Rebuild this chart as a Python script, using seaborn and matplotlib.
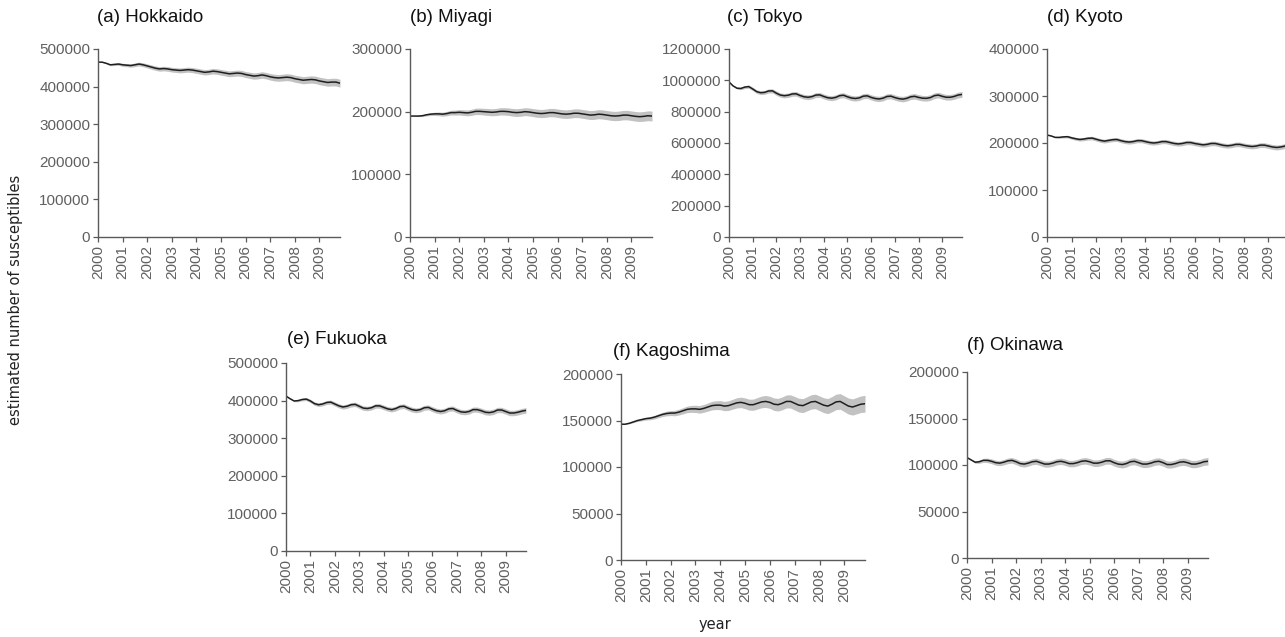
import numpy as np
import pandas as pd
import matplotlib
matplotlib.use("Agg")
import matplotlib.pyplot as plt
import seaborn as sns

# Sampling times: every two months, Jan 2000 .. Nov 2009
months = list(range(0, 120, 2))
years = [2000, 2001, 2002, 2003, 2004, 2005, 2006, 2007, 2008, 2009]
year_labels = ["2000", "2001", "2002", "2003", "2004", "2005", "2006", "2007", "2008", "2009"]

# Estimated number of susceptibles (posterior mean) per prefecture
hokkaido = [
    465000, 465000, 462000, 458000, 459000, 460000,
    458000, 457000, 456000, 458000, 460000, 458000,
    455000, 452000, 449000, 447000, 448000, 447000,
    445000, 444000, 443000, 444000, 445000, 444000,
    442000, 440000, 438000, 439000, 441000, 440000,
    438000, 436000, 434000, 435000, 436000, 435000,
    432000, 430000, 428000, 429000, 431000, 429000,
    426000, 424000, 423000, 424000, 425000, 424000,
    421000, 419000, 417000, 418000, 419000, 418000,
    415000, 413000, 411000, 412000, 412000, 409000,
]
miyagi = [
    193000, 193000, 193000, 193500, 195000, 196000,
    196500, 196500, 196000, 197000, 198500, 198500,
    199000, 198500, 198000, 199000, 200500, 200500,
    200000, 199500, 199000, 199500, 200500, 200500,
    200000, 199000, 198500, 199000, 200000, 199500,
    198500, 197500, 197000, 197500, 198500, 198500,
    197500, 196500, 196000, 196500, 197500, 197500,
    196500, 195500, 194500, 195000, 196000, 195500,
    194500, 193500, 193000, 193500, 194500, 194500,
    193500, 192500, 192000, 192500, 193500, 193000,
]
tokyo = [
    990000, 965000, 950000, 948000, 957000, 960000,
    945000, 928000, 921000, 923000, 932000, 933000,
    918000, 906000, 902000, 905000, 913000, 914000,
    903000, 895000, 892000, 896000, 906000, 907000,
    897000, 889000, 886000, 891000, 902000, 905000,
    895000, 887000, 884000, 888000, 899000, 901000,
    891000, 884000, 881000, 886000, 897000, 899000,
    890000, 883000, 880000, 885000, 895000, 898000,
    891000, 886000, 885000, 890000, 902000, 906000,
    898000, 892000, 892000, 897000, 906000, 910000,
]
kyoto = [
    217000, 215000, 212000, 212000, 213000, 213500,
    211000, 209000, 207500, 208500, 210000, 210500,
    208000, 205500, 204000, 205500, 207000, 207500,
    205000, 203000, 202000, 203000, 205000, 205000,
    203000, 201000, 200000, 201000, 203000, 203000,
    201000, 199000, 198000, 199000, 201000, 201000,
    199000, 197500, 196000, 197000, 199000, 199000,
    197000, 195000, 194000, 195000, 197000, 197000,
    195000, 193500, 192500, 193500, 195500, 195500,
    193500, 191500, 190500, 191500, 193500, 194000,
]
fukuoka = [
    412000, 405000, 399000, 400000, 403000, 404000,
    399000, 392000, 389000, 391000, 395000, 396000,
    391000, 386000, 383000, 385000, 389000, 390000,
    385000, 380000, 379000, 381000, 386000, 386000,
    382000, 378000, 376000, 379000, 384000, 385000,
    380000, 376000, 374000, 376000, 381000, 382000,
    377000, 373000, 371000, 373000, 378000, 379000,
    374000, 370000, 369000, 371000, 376000, 376000,
    373000, 369000, 368000, 370000, 375000, 375000,
    371000, 367000, 367000, 369000, 372000, 374000,
]
kagoshima = [
    146000, 146000, 147000, 148500, 150000, 151000,
    152000, 152500, 153500, 155000, 156500, 157500,
    158000, 158000, 159000, 160500, 162000, 162500,
    162500, 162000, 163000, 164500, 166000, 166500,
    166500, 165500, 166000, 167500, 169000, 169500,
    168500, 167000, 167000, 168500, 170000, 170500,
    169500, 167500, 167000, 168500, 170500, 170500,
    168500, 166500, 166000, 168000, 170000, 170500,
    168500, 166500, 165500, 167500, 170000, 170500,
    168000, 165500, 164500, 166000, 167500, 168000,
]
okinawa = [
    108000, 105500, 103000, 103500, 105000, 105000,
    104000, 102500, 102000, 103000, 104500, 105000,
    103500, 101500, 101000, 102000, 103500, 104000,
    102500, 101000, 101000, 102000, 103500, 104000,
    103000, 101500, 101500, 102500, 104000, 104500,
    103500, 102000, 102000, 103000, 104500, 104500,
    102500, 101000, 100500, 101500, 103500, 104000,
    102500, 101000, 101000, 102000, 103500, 104000,
    102500, 100500, 100500, 101500, 103000, 103500,
    102500, 101000, 101000, 102000, 103500, 104000,
]

# Half-width of the 95% credible band
hokkaido_hw = [
    0, 600, 1500, 2500, 3000, 3500,
    4000, 4200, 4500, 4800, 5000, 5200,
    5500, 5700, 5800, 6000, 6100, 6200,
    6300, 6400, 6500, 6600, 6700, 6800,
    6900, 7000, 7100, 7200, 7300, 7400,
    7500, 7600, 7700, 7800, 7900, 8000,
    8100, 8200, 8300, 8400, 8500, 8600,
    8700, 8800, 8900, 9000, 9100, 9200,
    9300, 9400, 9500, 9600, 9700, 9800,
    9900, 10000, 10100, 10200, 10300, 10400,
]
miyagi_hw = [
    0, 300, 800, 1300, 1800, 2200,
    2600, 2900, 3200, 3500, 3800, 4000,
    4300, 4500, 4700, 4900, 5100, 5200,
    5400, 5500, 5600, 5700, 5800, 5900,
    6000, 6100, 6200, 6300, 6300, 6400,
    6400, 6500, 6500, 6600, 6600, 6700,
    6700, 6800, 6800, 6900, 6900, 7000,
    7000, 7100, 7100, 7200, 7200, 7300,
    7300, 7400, 7400, 7500, 7500, 7600,
    7600, 7700, 7700, 7800, 7800, 7900,
]
tokyo_hw = [
    0, 3000, 6000, 8000, 9500, 10500,
    11000, 11500, 12000, 12500, 13000, 13000,
    13500, 13500, 14000, 14000, 14500, 14500,
    14500, 15000, 15000, 15000, 15500, 15500,
    15500, 15500, 16000, 16000, 16000, 16000,
    16000, 16500, 16500, 16500, 16500, 16500,
    16500, 17000, 17000, 17000, 17000, 17000,
    17000, 17000, 17500, 17500, 17500, 17500,
    17500, 17500, 17500, 18000, 18000, 18000,
    18000, 18000, 18000, 18000, 18500, 18500,
]
kyoto_hw = [
    0, 500, 1200, 1800, 2300, 2700,
    3000, 3200, 3400, 3600, 3700, 3800,
    3900, 4000, 4000, 4100, 4100, 4200,
    4200, 4300, 4300, 4300, 4400, 4400,
    4400, 4500, 4500, 4500, 4500, 4600,
    4600, 4600, 4600, 4700, 4700, 4700,
    4700, 4800, 4800, 4800, 4800, 4800,
    4900, 4900, 4900, 4900, 4900, 5000,
    5000, 5000, 5000, 5000, 5100, 5100,
    5100, 5100, 5200, 5200, 5200, 5200,
]
fukuoka_hw = [
    0, 1000, 2000, 3000, 3500, 4000,
    4300, 4600, 4800, 5000, 5200, 5300,
    5400, 5500, 5600, 5700, 5800, 5800,
    5900, 5900, 6000, 6000, 6100, 6100,
    6200, 6200, 6200, 6300, 6300, 6300,
    6400, 6400, 6400, 6500, 6500, 6500,
    6600, 6600, 6600, 6700, 6700, 6700,
    6800, 6800, 6800, 6900, 6900, 6900,
    7000, 7000, 7000, 7100, 7100, 7100,
    7200, 7200, 7200, 7300, 7300, 7300,
]
kagoshima_hw = [
    0, 200, 500, 800, 1000, 1300,
    1500, 1700, 1900, 2100, 2300, 2500,
    2700, 2900, 3100, 3300, 3500, 3700,
    3900, 4100, 4200, 4400, 4600, 4700,
    4900, 5000, 5200, 5300, 5500, 5600,
    5800, 5900, 6000, 6200, 6300, 6400,
    6500, 6700, 6800, 6900, 7000, 7100,
    7300, 7400, 7500, 7600, 7700, 7800,
    7900, 8000, 8100, 8200, 8300, 8400,
    8500, 8600, 8700, 8800, 8900, 9000,
]
okinawa_hw = [
    0, 500, 1200, 1700, 2100, 2400,
    2600, 2700, 2800, 2900, 3000, 3000,
    3100, 3100, 3200, 3200, 3200, 3300,
    3300, 3300, 3300, 3400, 3400, 3400,
    3400, 3400, 3500, 3500, 3500, 3500,
    3500, 3500, 3600, 3600, 3600, 3600,
    3600, 3600, 3700, 3700, 3700, 3700,
    3700, 3700, 3700, 3800, 3800, 3800,
    3800, 3800, 3800, 3800, 3900, 3900,
    3900, 3900, 3900, 3900, 3900, 4000,
]

titles = ["(a) Hokkaido", "(b) Miyagi", "(c) Tokyo", "(d) Kyoto",
          "(e) Fukuoka", "(f) Kagoshima", "(f) Okinawa"]
means = [hokkaido, miyagi, tokyo, kyoto, fukuoka, kagoshima, okinawa]
halfwidths = [hokkaido_hw, miyagi_hw, tokyo_hw, kyoto_hw,
              fukuoka_hw, kagoshima_hw, okinawa_hw]
y_tops = [500000, 300000, 1200000, 400000, 500000, 200000, 200000]
y_steps = [100000, 100000, 200000, 100000, 100000, 50000, 50000]

# Panel boxes in pixels: left, top, right, bottom; title anchor x, y
W, H = 1285, 637
boxes = [
    (98, 49, 340, 237), (410, 49, 652, 237), (729, 49, 962, 237),
    (1047, 49, 1289, 237),
    (286, 363, 526, 551), (621, 374, 865, 560), (967, 372, 1208, 558),
]
title_pos = [(97, 18), (410, 18), (727, 18), (1047, 18),
             (287, 339), (613, 352), (967, 345)]

sns.set_style("ticks")
plt.rcParams["font.family"] = ["Liberation Sans", "DejaVu Sans"]

fig = plt.figure(figsize=(W / 100, H / 100), dpi=100)
axis_grey = "#5a5a5a"
label_grey = "#606060"

for i, title in enumerate(titles):
    l, t, r, b = boxes[i]
    ax = fig.add_axes([l / W, 1 - b / H, (r - l) / W, (b - t) / H])
    df = pd.DataFrame({
        "t": [2000 + m / 12 for m in months],
        "mean": means[i],
        "lo": [m - h for m, h in zip(means[i], halfwidths[i])],
        "hi": [m + h for m, h in zip(means[i], halfwidths[i])],
    })
    ax.fill_between(df["t"], df["lo"], df["hi"], color="#c2c2c2",
                    linewidth=0, zorder=1)
    sns.lineplot(data=df, x="t", y="mean", ax=ax, color="#1e1e1e",
                 linewidth=1.1, zorder=2)
    ax.set_xlim(2000, df["t"].iloc[-1])
    ax.set_ylim(0, y_tops[i])
    ax.set_yticks(np.arange(0, y_tops[i] + 1, y_steps[i]))
    ax.set_yticklabels([str(int(v)) for v in np.arange(0, y_tops[i] + 1, y_steps[i])])
    ax.set_xticks(years)
    ax.set_xticklabels(year_labels, rotation=90)
    ax.set_xlabel("")
    ax.set_ylabel("")
    for side in ("top", "right"):
        ax.spines[side].set_visible(False)
    for side in ("left", "bottom"):
        ax.spines[side].set_color(axis_grey)
        ax.spines[side].set_linewidth(1.0)
    ax.tick_params(axis="both", colors=axis_grey, labelcolor=label_grey,
                   labelsize=11, length=3.5, width=0.9, pad=2)
    ax.set_facecolor("white")
    tx, ty = title_pos[i]
    fig.text(tx / W, 1 - ty / H, title, ha="left", va="center",
             fontsize=13.5, color="#111111")

fig.text(16 / W, 1 - 300 / H, "estimated number of susceptibles",
         rotation=90, ha="center", va="center", fontsize=10.5,
         family=["DejaVu Sans"], color="#222222")
fig.text(715 / W, 1 - 625 / H, "year", ha="center", va="center",
         fontsize=10.5, family=["DejaVu Sans"], color="#222222")

fig.savefig("out.png", dpi=100, facecolor="white")
